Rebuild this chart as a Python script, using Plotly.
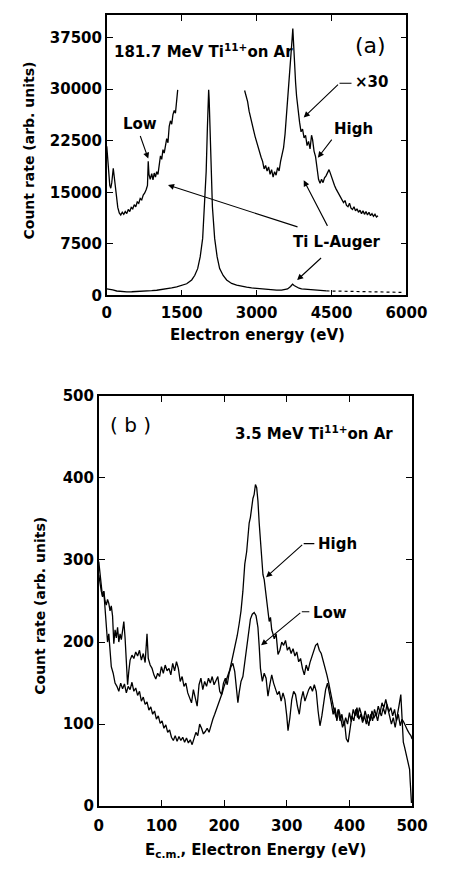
import plotly.graph_objects as go

# ---------------- Panel (a) data ----------------
a_main_x = [0, 60, 120, 200, 300, 400, 500, 600, 700, 800, 900, 1000, 1100, 1200, 1300, 1400, 1500,
            1600, 1700, 1760, 1820, 1870, 1920, 1960, 1990, 2015, 2030, 2040, 2050, 2065, 2090, 2115,
            2160, 2210, 2260, 2330, 2400, 2500, 2600, 2700, 2800, 2900, 3000, 3100, 3200, 3300, 3400,
            3500, 3560, 3620, 3680, 3720, 3750, 3800, 3850, 3900, 4000, 4100, 4200, 4300, 4400]
a_main_y = [950, 900, 820, 650, 560, 530, 540, 560, 600, 640, 700, 760, 850, 950, 1100, 1250, 1420,
            1700, 2250, 2900, 3900, 5600, 8300, 12900, 18000, 24500, 28500, 29900, 28500, 24500, 18000, 12900,
            8300, 5600, 3900, 2900, 2250, 1750, 1500, 1320, 1200, 1100, 1020, 950, 880, 820, 780,
            780, 820, 950, 1300, 1650, 1450, 1200, 1050, 950, 880, 820, 760, 700, 660]
a_tail_x = [4400, 4700, 5000, 5300, 5600, 5900]
a_tail_y = [660, 600, 560, 520, 480, 450]

a_low_x = [0, 20, 40, 60, 80, 100, 130, 150, 170, 195, 220, 250, 280, 310, 340, 370, 400, 430, 460,
           490, 520, 550, 580, 610, 640, 670, 700, 730, 760, 790, 815, 830, 845, 870, 900, 925, 950,
           975, 1000, 1025, 1050, 1075, 1100, 1125, 1150, 1175, 1200, 1225, 1250, 1275, 1300, 1325,
           1350, 1375, 1400, 1420]
a_low_y = [21700, 19800, 17500, 16000, 15600, 16400, 18500, 17200, 16200, 14200, 12800, 12000, 11700,
           12100, 11800, 12200, 11900, 12500, 12200, 12800, 12600, 13200, 12900, 13600, 13400, 14100,
           13900, 14600, 14900, 15400, 16000, 19500, 17600, 16900, 17700, 16800, 17800, 17200, 18000,
           17600, 18700, 20300, 19800, 21200, 20700, 21900, 22800, 22200, 24600, 25400, 24900, 26300,
           26900, 26500, 28300, 29900]

a_high_x = [2760, 2790, 2820, 2850, 2880, 2910, 2940, 2970, 3000, 3030, 3060, 3090, 3120, 3150, 3180,
            3210, 3240, 3270, 3300, 3330, 3360, 3390, 3420, 3450, 3480, 3510, 3540, 3570, 3600, 3630,
            3660, 3690, 3710, 3725, 3740, 3760, 3780, 3800, 3830, 3860, 3890, 3920, 3950, 3980, 4010,
            4040, 4070, 4100, 4120, 4150, 4180, 4210, 4240, 4270, 4300, 4330, 4360, 4390, 4420, 4450,
            4470, 4500, 4530, 4560, 4590, 4620, 4650, 4680, 4710, 4740, 4770, 4800, 4830, 4860, 4890,
            4920, 4950, 4980, 5010, 5040, 5070, 5100, 5130, 5160, 5190, 5220, 5250, 5280, 5310, 5340,
            5370, 5400, 5430]
a_high_y = [29800, 29000, 28200, 26800, 26000, 24800, 24000, 23100, 22300, 21500, 20700, 20100, 19500,
            18400, 18900, 18100, 18700, 17600, 18300, 17200, 18000, 17500, 18600, 18100, 19500, 20300,
            21500, 23500, 26200, 29500, 32200, 35000, 37200, 38800, 36000, 33500, 31000, 29000, 26500,
            25200, 23800, 24200, 22900, 23300, 21800, 22400, 21300, 23300, 22700, 21000, 20200, 18300,
            16900, 16300, 16900, 16400, 17100, 17400, 17900, 18300, 17900, 17200, 16600, 16000, 15500,
            15100, 14500, 14200, 13800, 13500, 13800, 13100, 12900, 13400, 12700, 12500, 12900, 12300,
            12600, 12100, 12400, 11900, 12300, 11800, 12200, 11700, 12100, 11600, 11900, 11500, 11800,
            11400, 11600]

a_xticks = [0, 1500, 3000, 4500, 6000]
a_yticks = [0, 7500, 15000, 22500, 30000, 37500]
a_ytext = ["0", "7500", "15000", "22500", "30000", "37500"]

# ---------------- Panel (b) data ----------------
b_high_x = [0, 2, 4, 6, 8, 10, 12, 14, 16, 18, 20, 23, 26, 29, 32, 35, 38, 41, 44, 47, 50, 53, 56, 59,
            62, 65, 68, 71, 74, 77, 80, 83, 86, 89, 92, 95, 98, 101, 104, 107, 110, 113, 116, 119, 122,
            125, 128, 131, 134, 137, 140, 143, 146, 149, 152, 155, 158, 161, 164, 167, 170, 173, 176,
            179, 182, 185, 188, 191, 194, 197, 200, 203, 206, 209, 212, 215, 218, 221, 224, 227, 230,
            233, 236, 238, 240, 242, 244, 246, 248, 250, 252, 254, 256, 258, 260, 262, 264, 266, 268,
            270, 272, 274, 276, 278, 280, 283, 286, 289, 292, 295, 298, 301, 304, 307, 310, 313, 316,
            319, 322, 325, 328, 331, 334, 337, 340, 343, 346, 349, 352, 355, 358, 361, 364, 367, 370,
            373, 376, 379, 382, 385, 388, 391, 394, 397, 400, 403, 406, 409, 412, 415, 418, 421, 424,
            427, 430, 433, 436, 439, 442, 445, 448, 451, 454, 457, 460, 463, 466, 469, 472, 475, 478,
            481, 484, 487, 490, 493, 496, 498, 500]
b_high_y = [298, 285, 270, 255, 262, 240, 228, 200, 210, 185, 170, 162, 150, 146, 140, 150, 143, 149,
            138, 146, 142, 151, 140, 144, 135, 140, 128, 133, 124, 127, 117, 121, 112, 116, 106, 110,
            101, 104, 95, 99, 90, 93, 84, 80, 86, 79, 85, 80, 84, 78, 83, 77, 81, 75, 84, 90, 86, 100,
            95, 88, 91, 95, 90, 100, 106, 112, 118, 124, 132, 138, 146, 152, 160, 166, 176, 186, 196,
            208, 222, 238, 262, 295, 310, 330, 345, 352, 365, 375, 380, 392, 388, 372, 345, 320, 300,
            282, 276, 262, 245, 235, 225, 230, 215, 210, 204, 210, 185, 190, 200, 196, 202, 190, 194,
            186, 192, 183, 188, 176, 180, 168, 160, 172, 165, 175, 182, 190, 196, 198, 190, 186, 178,
            168, 160, 150, 138, 125, 115, 108, 118, 104, 112, 98, 108, 100, 114, 103, 118, 110, 120,
            106, 112, 102, 110, 100, 112, 104, 116, 107, 113, 104, 116, 110, 120, 112, 124, 115, 120,
            110, 118, 104, 112, 98, 106, 102, 96, 92, 88, 86, 82]

b_low_x = [0, 2, 4, 6, 8, 10, 12, 14, 16, 18, 20, 22, 24, 26, 28, 30, 32, 34, 36, 38, 40, 42, 44, 46,
           48, 50, 53, 56, 59, 62, 65, 68, 71, 74, 77, 79, 82, 85, 88, 91, 94, 97, 100, 103, 106, 109,
           112, 115, 118, 121, 124, 127, 130, 133, 136, 139, 142, 145, 148, 151, 154, 157, 160, 163,
           166, 169, 172, 175, 178, 181, 184, 187, 190, 193, 196, 199, 202, 205, 208, 211, 214, 217,
           220, 222, 224, 227, 230, 233, 236, 239, 242, 245, 248, 251, 254, 256, 258, 261, 264, 267,
           270, 273, 276, 279, 282, 285, 288, 291, 294, 297, 300, 302, 305, 308, 311, 314, 317, 320,
           323, 326, 329, 332, 335, 338, 341, 344, 347, 350, 353, 356, 359, 362, 365, 368, 371, 374,
           377, 380, 383, 386, 389, 392, 395, 398, 401, 404, 407, 410, 413, 416, 419, 422, 425, 428,
           431, 434, 437, 440, 443, 446, 449, 452, 455, 458, 461, 464, 467, 470, 473, 476, 479, 482,
           484, 486, 488, 490, 492, 494, 496, 497, 498, 499]
b_low_y = [282, 270, 262, 256, 262, 250, 245, 252, 247, 238, 244, 232, 198, 215, 205, 218, 200, 210,
           203, 214, 225, 205, 180, 148, 165, 178, 184, 180, 188, 183, 190, 178, 186, 175, 210, 180,
           172, 168, 160, 155, 162, 158, 170, 162, 172, 165, 168, 160, 174, 165, 176, 168, 152, 158,
           146, 150, 138, 132, 126, 142, 130, 122, 148, 156, 142, 152, 146, 156, 150, 158, 148, 154,
           158, 140, 136, 150, 156, 148, 162, 170, 174, 164, 140, 126, 138, 152, 158, 175, 195, 212,
           228, 234, 236, 232, 218, 195, 168, 152, 162, 156, 134, 148, 160, 150, 142, 136, 140, 128,
           138, 130, 110, 92, 108, 130, 140, 136, 122, 112, 130, 140, 128, 136, 142, 146, 140, 148,
           140, 116, 98, 110, 128, 142, 150, 140, 126, 112, 120, 104, 118, 108, 96, 104, 82, 78, 96,
           110, 104, 118, 108, 120, 112, 104, 116, 108, 98, 112, 104, 118, 110, 122, 114, 126, 120,
           130, 118, 110, 100, 108, 96, 112, 122, 136, 110, 78, 72, 65, 62, 55, 45, 30, 12, 4]

b_xticks = [0, 100, 200, 300, 400, 500]
b_yticks = [0, 100, 200, 300, 400, 500]

W, H = 451, 872
FONT = "DejaVu Sans"
LINE = dict(color="black", width=1.3)

fig = go.Figure()
fig.add_trace(go.Scatter(x=a_main_x, y=a_main_y, mode="lines", line=LINE, xaxis="x", yaxis="y"))
fig.add_trace(go.Scatter(x=a_tail_x, y=a_tail_y, mode="lines", line=dict(color="black", width=1.2, dash="dot"),
                         xaxis="x", yaxis="y"))
fig.add_trace(go.Scatter(x=a_low_x, y=a_low_y, mode="lines", line=LINE, xaxis="x", yaxis="y"))
fig.add_trace(go.Scatter(x=a_high_x, y=a_high_y, mode="lines", line=LINE, xaxis="x", yaxis="y"))
fig.add_trace(go.Scatter(x=b_high_x, y=b_high_y, mode="lines", line=LINE, xaxis="x2", yaxis="y2"))
fig.add_trace(go.Scatter(x=b_low_x, y=b_low_y, mode="lines", line=LINE, xaxis="x2", yaxis="y2"))

tickfont = dict(family=FONT, size=15, color="black", weight="bold")
axis_common = dict(showline=True, linecolor="black", linewidth=1.6, mirror="ticks", ticks="inside",
                   ticklen=6, tickwidth=1.2, tickcolor="black", showgrid=False, zeroline=False,
                   tickfont=tickfont, fixedrange=True)

fig.update_layout(
    width=W, height=H, margin=dict(l=0, r=0, t=0, b=0),
    paper_bgcolor="white", plot_bgcolor="white", showlegend=False,
    xaxis=dict(domain=[108 / W, 426 / W], range=[0, 6000], tickvals=a_xticks, anchor="y",
               ticklabelstandoff=3, **axis_common),
    yaxis=dict(domain=[1 - 292.5 / H, 1 - 6 / H], range=[0, 40800], tickvals=a_yticks, ticktext=a_ytext,
               anchor="x", **axis_common),
    xaxis2=dict(domain=[99.5 / W, 432 / W], range=[0, 500], tickvals=b_xticks, anchor="y2",
                ticklabelstandoff=5, **axis_common),
    yaxis2=dict(domain=[1 - 814 / H, 1 - 395 / H], range=[0, 500], tickvals=b_yticks, anchor="x2",
                **axis_common),
)

bold = dict(family=FONT, size=15, color="black", weight="bold")
C = dict(xanchor="center", yanchor="middle", showarrow=False)
ann = []
# axis titles
ann.append(dict(text="Electron energy (eV)", xref="paper", yref="paper", x=268 / W, y=1 - 333 / H,
                font=bold, **C))
ann.append(dict(text="Count rate (arb. units)", xref="paper", yref="paper", x=26 / W, y=1 - 145 / H,
                textangle=-90, font=dict(bold, size=14), **C))
ann.append(dict(text="E<sub>c.m.</sub>, Electron Energy (eV)", xref="paper", yref="paper", x=266 / W,
                y=1 - 847 / H, xanchor="center", yanchor="top", showarrow=False, font=bold))
ann.append(dict(text="Count rate (arb. units)", xref="paper", yref="paper", x=37.5 / W, y=1 - 609 / H,
                textangle=-90, font=dict(bold, size=14), **C))

# panel (a) texts
ann.append(dict(text="181.7 MeV Ti<sup>11+</sup>on Ar", xref="x", yref="y", x=110, y=35500, xanchor="left",
                yanchor="middle", showarrow=False, font=bold))
ann.append(dict(text="(a)", xref="x", yref="y", x=5283, y=36400,
                font=dict(family=FONT, size=22, color="black"), **C))
ann.append(dict(text="×30", xref="x", yref="y", x=4930, y=31000, xanchor="left", yanchor="middle",
                showarrow=False, font=bold))
ann.append(dict(text="Low", xref="x", yref="y", x=660, y=25000, font=bold, **C))
ann.append(dict(text="High", xref="x", yref="y", x=4943, y=24170, font=bold, **C))
ann.append(dict(text="Ti L-Auger", xref="x", yref="y", x=4604, y=7790, font=bold, **C))

# panel (a) arrows (head -> x,y ; tail -> ax,ay)
a_arrows = [
    (3943, 25870, 4660, 30860),
    (830, 19900, 660, 23400),
    (4226, 20030, 4528, 22870),
    (1226, 16050, 3849, 9900),
    (3943, 16760, 4434, 9900),
    (3811, 2240, 4321, 5650),
]
for hx, hy, tx, ty in a_arrows:
    ann.append(dict(text="", xref="x", yref="y", axref="x", ayref="y", x=hx, y=hy, ax=tx, ay=ty,
                    showarrow=True, arrowhead=2, arrowsize=1.1, arrowwidth=1.1, arrowcolor="black",
                    standoff=0, startstandoff=0))

# panel (b) texts
ann.append(dict(text="( b )", xref="x2", yref="y2", x=50, y=464,
                font=dict(family=FONT, size=20, color="black"), **C))
ann.append(dict(text="3.5 MeV Ti<sup>11+</sup>on Ar", xref="x2", yref="y2", x=473, y=455, xanchor="right",
                yanchor="middle", showarrow=False, font=bold))
ann.append(dict(text="High", xref="x2", yref="y2", x=347, y=319, xanchor="left", yanchor="middle",
                showarrow=False, font=bold))
ann.append(dict(text="Low", xref="x2", yref="y2", x=338, y=236, xanchor="left", yanchor="middle",
                showarrow=False, font=bold))
b_arrows = [
    (267, 279, 327, 320),
    (259, 196, 324, 237),
]
for hx, hy, tx, ty in b_arrows:
    ann.append(dict(text="", xref="x2", yref="y2", axref="x2", ayref="y2", x=hx, y=hy, ax=tx, ay=ty,
                    showarrow=True, arrowhead=2, arrowsize=1.1, arrowwidth=1.1, arrowcolor="black",
                    standoff=0, startstandoff=0))

fig.update_layout(annotations=ann)

# short horizontal leaders before labels
shapes = [
    dict(type="line", xref="x", yref="y", x0=4660, y0=30860, x1=4900, y1=30860, line=dict(color="black", width=1.1)),
    dict(type="line", xref="x2", yref="y2", x0=327, y0=320, x1=344, y1=320, line=dict(color="black", width=1.1)),
    dict(type="line", xref="x2", yref="y2", x0=324, y0=237, x1=336, y1=237, line=dict(color="black", width=1.1)),
]
fig.update_layout(shapes=shapes)

fig.write_html("out.html")
